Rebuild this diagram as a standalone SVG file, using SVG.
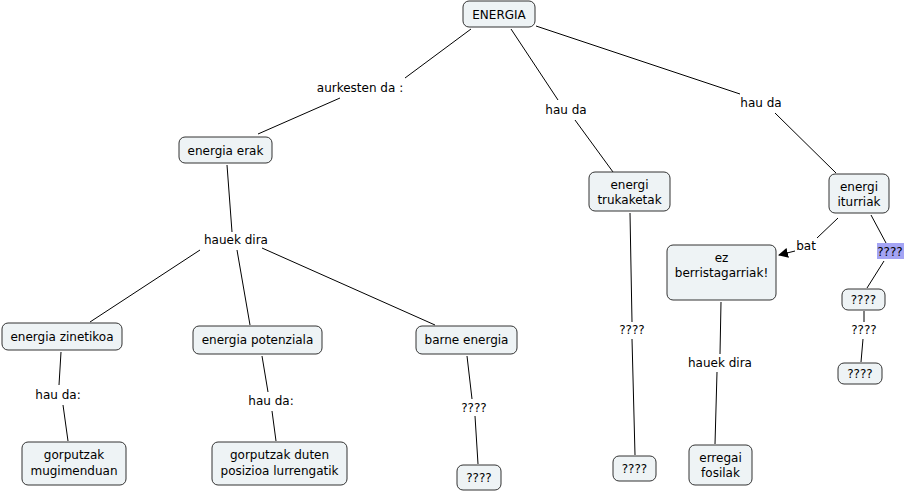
<svg xmlns="http://www.w3.org/2000/svg" width="906" height="492" viewBox="0 0 906 492">
<defs>
<style>
.n rect{fill:#eef3f5;stroke:#333;stroke-width:1}
text{font-family:"DejaVu Sans",Verdana,sans-serif;font-size:12px;fill:#000;text-anchor:middle}
.c line{stroke:#000;stroke-width:1}
.lb{fill:#fff}
</style>
<marker id="ah" viewBox="0 0 10 10" refX="9" refY="5" markerWidth="10" markerHeight="10" markerUnits="userSpaceOnUse" orient="auto"><path d="M0,0L10,5L0,10z" fill="#000"/></marker>
</defs>
<rect width="906" height="492" fill="#fff"/>
<g class="c" id="connectors">
<line x1="471" y1="29" x2="405" y2="78"/><line x1="340" y1="98" x2="258" y2="134"/>
<line x1="511" y1="29" x2="558" y2="100"/><line x1="575" y1="120" x2="613" y2="172"/>
<line x1="536" y1="26" x2="740" y2="94"/><line x1="775" y1="113" x2="836" y2="173"/>
<line x1="227" y1="165" x2="232" y2="232"/>
<line x1="200" y1="250" x2="90" y2="322"/><line x1="237" y1="250" x2="250" y2="325"/><line x1="262" y1="248" x2="435" y2="325"/>
<line x1="61" y1="352" x2="59" y2="385"/><line x1="63" y1="405" x2="68" y2="441"/>
<line x1="262" y1="356" x2="268" y2="392"/><line x1="272" y1="411" x2="276" y2="441"/>
<line x1="467" y1="356" x2="472" y2="399"/><line x1="475" y1="416" x2="478" y2="464"/>
<line x1="630" y1="213" x2="632" y2="322"/><line x1="632" y1="339" x2="635" y2="455"/>
<line x1="721" y1="302" x2="720" y2="354"/><line x1="717" y1="372" x2="715" y2="444"/>
<line x1="838" y1="218" x2="817" y2="238"/><line x1="795" y1="251" x2="779" y2="255" marker-end="url(#ah)"/>
<line x1="871" y1="215" x2="886" y2="243"/><line x1="884" y1="261" x2="867" y2="288"/>
<line x1="864" y1="311" x2="864" y2="322"/><line x1="863" y1="339" x2="861" y2="362"/>
</g>
<g id="labels">
<text x="360" y="92">aurkesten da :</text>
<text x="566" y="114">hau da</text>
<text x="761" y="107">hau da</text>
<text x="236" y="244">hauek dira</text>
<text x="58" y="399">hau da:</text>
<text x="271" y="405">hau da:</text>
<text x="474" y="412">????</text>
<text x="632" y="334">????</text>
<text x="720" y="367">hauek dira</text>
<text x="806" y="250">bat</text>
<rect x="877" y="243" width="27" height="16" fill="#a4a4f4"/>
<text x="890" y="256">????</text>
<text x="864" y="334">????</text>
</g>
<g class="n" id="n-energia"><rect x="463" y="1" width="72" height="26" rx="6"/><text x="499" y="19">ENERGIA</text></g>
<g class="n" id="n-erak"><rect x="179" y="137" width="93" height="26" rx="6"/><text x="225.5" y="155">energia erak</text></g>
<g class="n" id="n-trukaketak"><rect x="589" y="172" width="81" height="39" rx="6"/><text x="629.5" y="189">energi</text><text x="629.5" y="204">trukaketak</text></g>
<g class="n" id="n-iturriak"><rect x="829" y="174" width="60" height="39" rx="6"/><text x="859" y="191">energi</text><text x="859" y="206">iturriak</text></g>
<g class="n" id="n-ez"><rect x="667" y="245" width="109" height="55" rx="6"/><text x="721.5" y="262">ez</text><text x="721.5" y="277">berristagarriak!</text></g>
<g class="n" id="n-q1"><rect x="842" y="289" width="43" height="21" rx="6"/><text x="863.5" y="304">????</text></g>
<g class="n" id="n-q2"><rect x="838" y="363" width="44" height="21" rx="6"/><text x="860" y="378">????</text></g>
<g class="n" id="n-zinetikoa"><rect x="2" y="323" width="120" height="27" rx="6"/><text x="62" y="341">energia zinetikoa</text></g>
<g class="n" id="n-potenziala"><rect x="193" y="326" width="129" height="28" rx="6"/><text x="257.5" y="344">energia potenziala</text></g>
<g class="n" id="n-barne"><rect x="416" y="326" width="101" height="28" rx="6"/><text x="466.5" y="344">barne energia</text></g>
<g class="n" id="n-mugimenduan"><rect x="22" y="442" width="104" height="43" rx="6"/><text x="74" y="459">gorputzak</text><text x="74" y="475">mugimenduan</text></g>
<g class="n" id="n-posizioa"><rect x="212" y="442" width="135" height="43" rx="6"/><text x="279.5" y="459">gorputzak duten</text><text x="279.5" y="475">posizioa lurrengatik</text></g>
<g class="n" id="n-q3"><rect x="457" y="465" width="44" height="25" rx="6"/><text x="479" y="482">????</text></g>
<g class="n" id="n-q4"><rect x="613" y="456" width="43" height="25" rx="6"/><text x="634.5" y="473">????</text></g>
<g class="n" id="n-fosilak"><rect x="689" y="445" width="63" height="40" rx="6"/><text x="720.5" y="462">erregai</text><text x="720.5" y="477">fosilak</text></g>
</svg>
